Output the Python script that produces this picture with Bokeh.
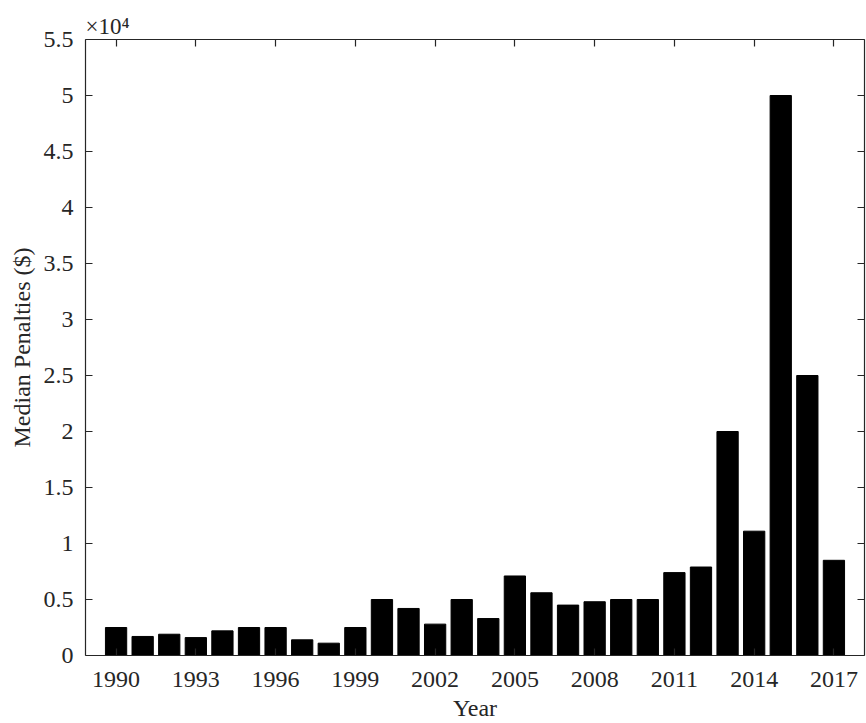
from bokeh.plotting import figure
from bokeh.models import LinearAxis, FixedTicker, Range1d, Title
from bokeh.embed import file_html
from bokeh.resources import INLINE

years = list(range(1990, 2018))
median_penalties = [
    2500, 1700, 1900, 1600, 2200, 2500, 2500, 1400, 1100, 2500,
    5000, 4200, 2800, 5000, 3300, 7100, 5600, 4500, 4800, 5000,
    5000, 7400, 7900, 20000, 11100, 50000, 25000, 8500,
]
x_ticks = list(range(1990, 2018, 3))
y_ticks = list(range(0, 55001, 5000))
y_tick_labels = ["0", "0.5", "1", "1.5", "2", "2.5", "3", "3.5", "4", "4.5", "5", "5.5"]

FONT = "Liberation Serif"
AX = "#262626"

p = figure(width=866, height=723, output_backend="svg", toolbar_location=None,
           x_range=Range1d(1988.85, 2018.15), y_range=Range1d(0, 55000),
           min_border_left=85, min_border_right=2, min_border_top=39, min_border_bottom=68)
p.outline_line_color = None
p.background_fill_color = "white"
p.border_fill_color = "white"
p.xgrid.visible = False
p.ygrid.visible = False

p.vbar(x=years, top=median_penalties, width=0.8, fill_color="black", line_color="black")

def style_axis(ax, labels=True):
    ax.axis_line_color = AX
    ax.axis_line_width = 1.2
    ax.major_tick_line_color = AX
    ax.major_tick_line_width = 1.2
    ax.major_tick_in = 7
    ax.major_tick_out = 0
    ax.minor_tick_line_color = None
    ax.major_label_text_font = FONT
    ax.major_label_text_font_size = "24px"
    ax.major_label_text_color = AX
    ax.axis_label_text_font = FONT
    ax.axis_label_text_font_size = "24px"
    ax.axis_label_text_font_style = "normal"
    ax.axis_label_text_color = AX
    if not labels:
        ax.major_label_text_font_size = "0px"
        ax.major_label_text_color = None

xb = p.xaxis[0]
xb.ticker = FixedTicker(ticks=x_ticks)
xb.axis_label = "Year"
style_axis(xb)
xb.major_label_standoff = 16
xb.axis_label_standoff = 5

yl = p.yaxis[0]
yl.ticker = FixedTicker(ticks=y_ticks)
yl.major_label_overrides = {t: s for t, s in zip(y_ticks, y_tick_labels)}
yl.axis_label = "Median Penalties ($)"
style_axis(yl)
yl.major_label_standoff = 12
yl.axis_label_standoff = 6

xt = LinearAxis(ticker=FixedTicker(ticks=x_ticks))
style_axis(xt, labels=False)
p.add_layout(xt, "above")

yr = LinearAxis(ticker=FixedTicker(ticks=y_ticks))
style_axis(yr, labels=False)
p.add_layout(yr, "right")

# multiplier note above the y axis
p.add_layout(Title(text="\u00d710\u2074", align="left", text_font=FONT,
                   text_font_size="23px", text_font_style="normal",
                   text_color=AX, standoff=1, offset=0), "above")

open("out.html", "w").write(file_html(p, INLINE))
